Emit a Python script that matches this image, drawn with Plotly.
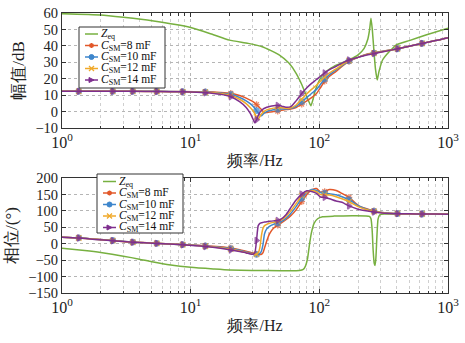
import plotly.graph_objects as go

# ---------------- data ----------------
freq_csm = [1, 1.35, 1.8, 2.48, 3.55, 5.45, 8.67, 13, 17, 20.5,
            24, 27, 29, 30.5, 31.5, 32.5, 33.5, 34.5, 35.5, 36.5,
            37.5, 39, 41, 44, 47.5, 51, 55, 60, 66, 73,
            80, 87, 95, 102, 110, 120, 135, 150, 170, 200,
            230, 266, 320, 405, 500, 630, 800, 1000]
marker_freqs = [1.35, 2.48, 3.55, 5.45, 8.67, 13, 20.5, 32.5, 47.5, 73,
                110, 170, 266, 405, 630]

mag_8 = [12.4, 12.4, 12.4, 12.4, 12.4, 12.3, 12.2, 12.0, 11.6, 11.1,
         9.8, 8.2, 7.0, 6.0, 5.2, 4.2, 3.2, 2.2, 1.2, 0.2,
         -0.6, -0.6, -0.3, 0.0, 0.3, 0.8, 1.2, 1.6, 2.5, 4.5,
         6.5, 8.5, 11.0, 14.5, 18.5, 21.5, 24.5, 27.5, 30.5, 33.0,
         34.8, 35.8, 36.9, 38.3, 39.8, 41.5, 43.2, 45.0]
mag_10 = [12.3, 12.3, 12.3, 12.3, 12.3, 12.3, 12.1, 11.9, 11.3, 10.5,
          8.6, 6.5, 4.8, 3.3, 2.0, 0.6, -0.8, -2.0, -2.6, -1.6,
          -0.8, 0.0, 0.6, 1.1, 1.4, 1.6, 1.6, 2.0, 3.2, 6.0,
          8.6, 11.0, 13.5, 16.5, 19.8, 22.5, 25.3, 28.0, 30.8, 33.0,
          34.6, 35.6, 36.8, 38.2, 39.8, 41.5, 43.2, 45.0]
mag_12 = [12.3, 12.3, 12.3, 12.3, 12.3, 12.2, 12.0, 11.8, 11.0, 9.8,
          7.5, 4.8, 2.5, 0.5, -1.3, -3.3, -4.5, -3.0, -1.5, -0.5,
          0.3, 1.0, 1.6, 2.1, 2.4, 2.3, 2.0, 2.3, 4.0, 7.5,
          10.8, 13.5, 16.0, 18.5, 21.0, 23.5, 26.0, 28.5, 31.0, 33.0,
          34.5, 35.5, 36.7, 38.2, 39.8, 41.5, 43.2, 45.0]
mag_14 = [12.3, 12.3, 12.3, 12.3, 12.3, 12.2, 12.0, 11.5, 10.5, 9.0,
          6.0, 2.5, -1.0, -4.5, -6.8, -5.0, -2.5, -0.5, 0.8, 1.5,
          2.0, 2.6, 3.1, 3.6, 3.8, 3.3, 2.6, 3.0, 6.5, 11.0,
          14.5, 17.2, 19.5, 21.5, 23.5, 25.5, 27.5, 29.5, 31.4, 33.0,
          34.3, 35.3, 36.6, 38.2, 39.8, 41.5, 43.2, 45.0]

ph_8 = [20, 18, 14, 10, 5, 1.5, -2.5, -6, -9.5, -13,
        -18, -23, -26, -28.5, -30, -31.5, -32.5, -33, -32, -27,
        -13, 8, 30, 47, 56, 64, 73, 85, 103, 128,
        150, 164, 168, 157, 159, 165, 162, 153, 141, 117,
        107, 100, 94, 91.5, 91, 90.5, 90.3, 90]
ph_10 = [20, 17.8, 13.8, 9.8, 4.8, 1.2, -2.8, -7, -11, -15,
         -20, -25.5, -28.5, -30.5, -31.5, -32.5, -32.5, -30, -22, -2,
         30, 45, 53, 59, 63, 68, 77, 92, 113, 138,
         156, 165, 162, 156, 154, 152, 149, 143, 134, 116,
         106, 99, 94, 91.5, 91, 90.5, 90.3, 90]
ph_12 = [20, 17.6, 13.5, 9.5, 4.6, 1.1, -2.9, -7.5, -12, -16.5,
         -22, -27, -30, -31.5, -32.5, -32, -28, -12, 25, 47,
         55, 59, 62, 65, 68, 73, 83, 100, 122, 146,
         158, 162, 158, 150, 149, 148, 143, 137, 128, 113,
         104, 98, 93.5, 91.5, 91, 90.5, 90.3, 90]
ph_14 = [20, 17.5, 13, 9, 4.5, 1, -3, -8.5, -14, -19,
         -24, -28, -31, -32, -28, 10, 55, 62, 64, 65,
         66, 67, 68, 69.5, 71, 76, 88, 110, 133, 151,
         161, 159, 153, 142, 141, 137, 130, 126, 115, 105,
         100, 96.5, 93, 91.5, 91, 90.5, 90.3, 90]

freq_zeq_mag = [1, 2, 3, 5, 10, 15, 20, 28, 36, 49, 58, 66, 73, 79, 83, 86,
                89, 93, 100, 109, 130, 170, 200, 223, 238, 246, 252, 258,
                265, 273, 282, 290, 310, 350, 394, 500, 673, 1000]
mag_zeq = [59.6, 58.8, 57.4, 55.3, 51.2, 46.8, 43.5, 41.5, 39.5, 34.4, 29.5,
           23.3, 16.5, 10, 6, 3.5, 7, 13, 19, 23.3, 27.5, 31.4, 34.5, 38.5,
           44, 50, 56.8, 50, 38, 26, 19.2, 24, 31.4, 36.5, 40.5, 43.2, 46.6,
           50.7]
freq_zeq_ph = [1, 1.5, 2, 3, 4, 5, 7, 10, 15, 20, 30, 50, 70, 75, 78, 81, 84,
               87, 91, 97, 106, 130, 180, 230, 245, 252, 257, 262, 267, 271,
               275, 280, 286, 295, 320, 450, 700, 1000]
ph_zeq = [-14, -21, -27, -38, -47, -55, -65, -72, -77, -80, -81.5, -82,
          -81.5, -78, -68, -45, 0, 35, 62, 76, 82, 84, 85, 84.5, 83, 76,
          45, -20, -60, -66, -45, 20, 75, 88, 90.5, 90.5, 90.5, 90.5]

names = ["<i>Z</i><sub>eq</sub>", "<i>C</i><sub>SM</sub>=8 mF",
         "<i>C</i><sub>SM</sub>=10 mF", "<i>C</i><sub>SM</sub>=12 mF",
         "<i>C</i><sub>SM</sub>=14 mF"]
colors = ["#77B040", "#E2582A", "#3E86CC", "#F0A92A", "#7E2F8E"]
symbols = ["asterisk-open", "circle", "x-thin-open", "triangle-right"]

xtick_vals = [1, 10, 100, 1000]
xtick_text = ["10<sup>0</sup>", "10<sup>1</sup>", "10<sup>2</sup>", "10<sup>3</sup>"]
minor_vals = [m * 10 ** k for k in range(3) for m in range(2, 10)]

# ---------------- figure ----------------
W, H = 465, 343
ML, MR, MT, MB = 62, 17, 13, 50
PW, PH = W - ML - MR, H - MT - MB


def px(x):
    return (x - ML) / PW


def py(y):
    return (H - MB - y) / PH


FONT = "Liberation Serif"
fig = go.Figure()

msizes = [5.5 if f in marker_freqs else 0 for f in freq_csm]

for row, (fz, vz, series) in enumerate([
        (freq_zeq_mag, mag_zeq, [mag_8, mag_10, mag_12, mag_14]),
        (freq_zeq_ph, ph_zeq, [ph_8, ph_10, ph_12, ph_14])]):
    xa = "x" if row == 0 else "x2"
    ya = "y" if row == 0 else "y2"
    fig.add_trace(go.Scatter(x=fz, y=vz, mode="lines", xaxis=xa, yaxis=ya,
                             line=dict(color=colors[0], width=1.5, shape="spline", smoothing=0.5),
                             showlegend=False))
    for i, vals in enumerate(series):
        c = colors[i + 1]
        fig.add_trace(go.Scatter(
            x=freq_csm, y=vals, mode="lines+markers", xaxis=xa, yaxis=ya,
            line=dict(color=c, width=1.5, shape="spline", smoothing=0.6),
            marker=dict(symbol=symbols[i], size=msizes, color=c,
                        line=dict(color=c, width=1.3)),
            showlegend=False))

axis_common = dict(showline=True, linecolor="#333", linewidth=1, mirror="ticks",
                   ticks="inside", ticklen=4, tickcolor="#333",
                   showgrid=True, gridcolor="#b5b5b5", griddash="dot", gridwidth=1,
                   zeroline=False, tickfont=dict(family=FONT, size=14.5, color="#222"))

xcommon = dict(axis_common, type="log", range=[0, 3], tickvals=xtick_vals,
               ticktext=xtick_text, tickfont=dict(family=FONT, size=16, color="#222"),
               minor=dict(tickvals=minor_vals, ticks="inside", ticklen=2.5,
                          tickcolor="#333", showgrid=True, gridcolor="#cfcfcf",
                          griddash="dot", gridwidth=1),
               title=dict(text="频率/Hz", font=dict(family=FONT, size=16, color="#222"),
                          standoff=4))

top_dom = [py(128), 1]
bot_dom = [0, py(178)]

fig.update_layout(
    width=W, height=H, margin=dict(l=ML, r=MR, t=MT, b=MB, autoexpand=False),
    paper_bgcolor="white", plot_bgcolor="white",
    font=dict(family=FONT, size=15, color="#222"),
    xaxis=dict(xcommon, anchor="y", domain=[0, 1]),
    yaxis=dict(axis_common, anchor="x", domain=top_dom, range=[-10, 60], dtick=10,
               title=dict(text="幅值/dB", font=dict(family=FONT, size=17, color="#222"),
                          standoff=6)),
    xaxis2=dict(xcommon, anchor="y2", domain=[0, 1]),
    yaxis2=dict(axis_common, anchor="x2", domain=bot_dom, range=[-150, 200], dtick=50,
                title=dict(text="相位/(°)", font=dict(family=FONT, size=17, color="#222"),
                           standoff=6)),
    showlegend=False,
)

# ---------------- hand-drawn legends (layout decoration) ----------------
shapes, annotations = [], []
legend_boxes = [
    dict(x0=79, y0=27, x1=165, y1=88, ys=[34, 45.5, 57, 68.5, 80], lx0=85, lx1=98, tx=100),
    dict(x0=97, y0=174, x1=183, y1=233, ys=[181.5, 193, 204.5, 216, 227.5], lx0=103, lx1=116, tx=118),
]
for lb in legend_boxes:
    shapes.append(dict(type="rect", xref="paper", yref="paper",
                       x0=px(lb["x0"]), x1=px(lb["x1"]), y0=py(lb["y1"]), y1=py(lb["y0"]),
                       line=dict(color="#333", width=1), fillcolor="white", layer="above"))
    for k, yy in enumerate(lb["ys"]):
        c = colors[k]
        shapes.append(dict(type="line", xref="paper", yref="paper",
                           x0=px(lb["lx0"]), x1=px(lb["lx1"]), y0=py(yy), y1=py(yy),
                           line=dict(color=c, width=1.5), layer="above"))
        mx = (lb["lx0"] + lb["lx1"]) / 2
        r = 2.5
        if k == 1:  # asterisk
            d = (f"M{px(mx-r)},{py(yy)} L{px(mx+r)},{py(yy)} "
                 f"M{px(mx)},{py(yy-r)} L{px(mx)},{py(yy+r)} "
                 f"M{px(mx-r*0.7)},{py(yy-r*0.7)} L{px(mx+r*0.7)},{py(yy+r*0.7)} "
                 f"M{px(mx-r*0.7)},{py(yy+r*0.7)} L{px(mx+r*0.7)},{py(yy-r*0.7)}")
            shapes.append(dict(type="path", xref="paper", yref="paper", path=d,
                               line=dict(color=c, width=1.3), layer="above"))
        elif k == 2:  # circle
            shapes.append(dict(type="circle", xref="paper", yref="paper",
                               x0=px(mx - r), x1=px(mx + r), y0=py(yy + r), y1=py(yy - r),
                               line=dict(color=c, width=1), fillcolor=c, layer="above"))
        elif k == 3:  # x
            d = (f"M{px(mx-r)},{py(yy-r)} L{px(mx+r)},{py(yy+r)} "
                 f"M{px(mx-r)},{py(yy+r)} L{px(mx+r)},{py(yy-r)}")
            shapes.append(dict(type="path", xref="paper", yref="paper", path=d,
                               line=dict(color=c, width=1.3), layer="above"))
        elif k == 4:  # right triangle
            d = (f"M{px(mx-r)},{py(yy-r)} L{px(mx+r)},{py(yy)} L{px(mx-r)},{py(yy+r)} Z")
            shapes.append(dict(type="path", xref="paper", yref="paper", path=d,
                               line=dict(color=c, width=1), fillcolor=c, layer="above"))
        annotations.append(dict(xref="paper", yref="paper", x=px(lb["tx"]), y=py(yy),
                                xanchor="left", yanchor="middle", showarrow=False,
                                borderpad=0,
                                text=names[k], font=dict(family=FONT, size=11.5, color="#111")))

fig.update_layout(shapes=shapes, annotations=annotations)
fig.write_html("out.html")
